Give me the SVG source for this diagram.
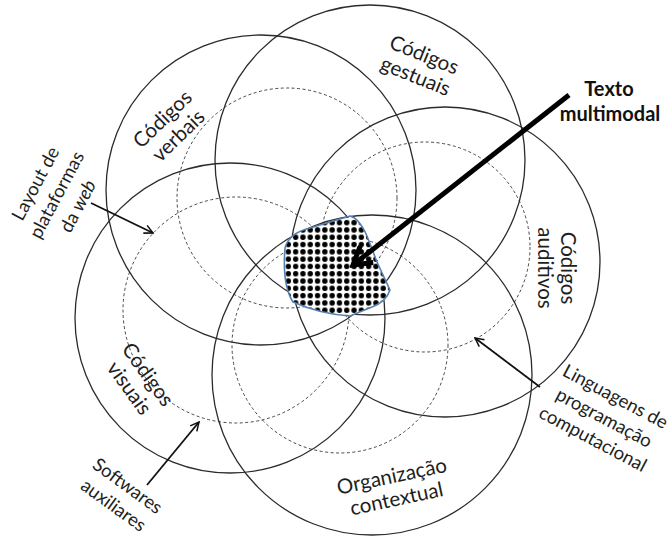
<svg xmlns="http://www.w3.org/2000/svg" width="671" height="540" viewBox="0 0 671 540">
<defs>
<style>
.ring{fill:none;stroke:#2b2b2b;stroke-width:1.3}
.dash{fill:none;stroke:#333;stroke-width:0.9;stroke-dasharray:3 2.5}
.lbl{font-family:Lato,"Open Sans",sans-serif;font-size:20.5px;fill:#1e1e1e;text-anchor:middle}
.out{font-family:Lato,"Open Sans",sans-serif;font-size:18.5px;fill:#1e1e1e;text-anchor:middle}
.thin{fill:none;stroke:#111;stroke-width:1.8;marker-end:url(#openHead)}
.big{fill:none;stroke:#000;stroke-width:5;marker-end:url(#bigHead)}
</style>
<marker id="openHead" viewBox="0 0 10 10" refX="9" refY="5" markerWidth="6" markerHeight="6" orient="auto" markerUnits="strokeWidth">
<path d="M1,1 L9,5 L1,9" fill="none" stroke="#111" stroke-width="1.4"/>
</marker>
<marker id="bigHead" viewBox="0 0 10 10" refX="8.5" refY="5" markerWidth="5" markerHeight="5" orient="auto" markerUnits="strokeWidth">
<path d="M1.5,0.8 L8.5,5 L1.5,9.2" fill="none" stroke="#000" stroke-width="2"/>
</marker>
<pattern id="dots" width="7.3" height="7.3" patternUnits="userSpaceOnUse">
<rect width="7.3" height="7.3" fill="#fff"/>
<circle cx="3.65" cy="3.65" r="2.7" fill="#000"/>
</pattern>
</defs>
<rect width="671" height="540" fill="#fff"/>

<g id="dashed-rings">
<circle class="dash" cx="287" cy="198" r="110"/>
<circle class="dash" cx="425" cy="247" r="105"/>
<circle class="dash" cx="340" cy="345" r="108"/>
<circle class="dash" cx="236" cy="310" r="113"/>
</g>

<g id="codigos-verbais">
<circle class="ring" cx="261" cy="190" r="155"/>
<g transform="translate(170,127) rotate(-44)"><text class="lbl" y="-4">Códigos</text><text class="lbl" y="19">verbais</text></g>
</g>
<g id="codigos-gestuais">
<circle class="ring" cx="370" cy="160" r="155"/>
<g transform="translate(420,65) rotate(22)"><text class="lbl" y="-4">Códigos</text><text class="lbl" y="19">gestuais</text></g>
</g>
<g id="codigos-auditivos">
<circle class="ring" cx="445" cy="262" r="155"/>
<g transform="translate(557,268) rotate(90)"><text class="lbl" y="-4">Códigos</text><text class="lbl" y="19">auditivos</text></g>
</g>
<g id="organizacao-contextual">
<circle class="ring" cx="372" cy="375" r="160"/>
<g transform="translate(394,487) rotate(-12)"><text class="lbl" y="-4">Organização</text><text class="lbl" y="19">contextual</text></g>
</g>
<g id="codigos-visuais">
<circle class="ring" cx="230" cy="318" r="155"/>
<g transform="translate(139,381) rotate(54)"><text class="lbl" y="-4">Códigos</text><text class="lbl" y="19">visuais</text></g>
</g>

<g id="texto-multimodal-area">
<path d="M285,248 Q289,233 310,228 L350,216 Q359,218 367,236 L377,262 L390,290 Q386,302 372,307 L350,316 Q320,314 293,302 Q282,285 285,248 Z" fill="url(#dots)" stroke="#5580b0" stroke-width="1.6"/>
</g>

<g id="connectors">
<line class="big" x1="569" y1="95" x2="353" y2="265"/>
<line class="thin" x1="91" y1="203" x2="153" y2="233"/>
<line class="thin" x1="147" y1="485" x2="199" y2="422"/>
<line class="thin" x1="540" y1="387" x2="475" y2="338"/>
</g>

<g id="label-texto-multimodal">
<text x="609" y="96" font-family="Lato,'Open Sans',sans-serif" font-size="20" font-weight="bold" text-anchor="middle" fill="#111">Texto</text>
<text x="610" y="121" font-family="Lato,'Open Sans',sans-serif" font-size="20" font-weight="bold" text-anchor="middle" fill="#111">multimodal</text>
</g>
<g id="label-layout" transform="translate(57,195) rotate(-62)">
<text class="out" y="-18">Layout de</text>
<text class="out" y="6">plataformas</text>
<text class="out" y="30">da <tspan font-style="italic">web</tspan></text>
</g>
<g id="label-softwares" transform="translate(121,495) rotate(36)">
<text class="out" y="-5">Softwares</text>
<text class="out" y="19">auxiliares</text>
</g>
<g id="label-linguagens" transform="translate(604,418) rotate(28)">
<text class="out" y="-18">Linguagens de</text>
<text class="out" y="6">programação</text>
<text class="out" y="30">computacional</text>
</g>
</svg>
